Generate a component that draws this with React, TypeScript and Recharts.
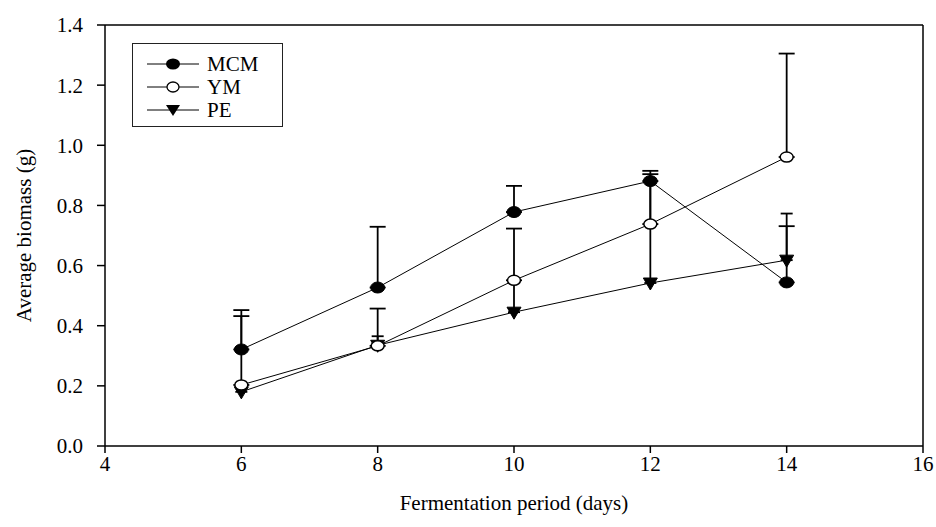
import React from 'react';
import {
  LineChart,
  Line,
  XAxis,
  YAxis,
  ErrorBar,
  ReferenceLine
} from 'recharts';

const days = [6, 8, 10, 12, 14];
const mcm = [0.321, 0.527, 0.778, 0.881, 0.544];
const mcmErr = [0.131, 0.202, 0.087, 0.034, 0.187];
const ym = [0.203, 0.333, 0.551, 0.738, 0.961];
const ymErr = [0.229, 0.124, 0.172, 0.166, 0.344];
const pe = [0.18, 0.335, 0.445, 0.542, 0.618];
const peErr = [0.02, 0.03, 0.105, 0.34, 0.155];
const xTicks = [4, 6, 8, 10, 12, 14, 16];
const yTicks = [0, 0.2, 0.4, 0.6, 0.8, 1.0, 1.2, 1.4];

const data = days.map((d, i) => ({
  day: d,
  mcm: mcm[i],
  mcmErr: [0, mcmErr[i]],
  ym: ym[i],
  ymErr: [0, ymErr[i]],
  pe: pe[i],
  peErr: [0, peErr[i]]
}));

const FONT = '"Liberation Serif", "Times New Roman", serif';

const FilledDot = (p: any) => (
  <ellipse key={p.key} cx={p.cx} cy={p.cy} rx={7} ry={5.5} fill="#000" stroke="#000" strokeWidth={1} />
);
const HollowDot = (p: any) => (
  <ellipse key={p.key} cx={p.cx} cy={p.cy} rx={6.5} ry={5} fill="#fff" stroke="#000" strokeWidth={1.5} />
);
const TriDot = (p: any) => (
  <polygon
    key={p.key}
    points={`${p.cx - 7},${p.cy - 5} ${p.cx + 7},${p.cy - 5} ${p.cx},${p.cy + 7}`}
    fill="#000"
    stroke="#000"
  />
);

const legendItems = [
  { name: 'MCM', marker: 'filled' },
  { name: 'YM', marker: 'hollow' },
  { name: 'PE', marker: 'tri' }
];

const LegendBox = () => (
  <div
    style={{
      position: 'absolute',
      left: 132,
      top: 43,
      width: 151,
      height: 84,
      border: '1.5px solid #222',
      fontFamily: FONT,
      fontSize: 21,
      color: '#000',
      paddingTop: 8,
      boxSizing: 'border-box',
      background: '#fff'
    }}
  >
    {legendItems.map((it) => (
      <div key={it.name} style={{ display: 'flex', alignItems: 'center', height: 23, paddingLeft: 14 }}>
        <svg width={54} height={16}>
          <line x1={0} y1={8} x2={52} y2={8} stroke="#000" strokeWidth={1} />
          {it.marker === 'filled' && <ellipse cx={26} cy={8} rx={7} ry={5.5} fill="#000" />}
          {it.marker === 'hollow' && <ellipse cx={26} cy={8} rx={6} ry={5} fill="#fff" stroke="#000" strokeWidth={1.3} />}
          {it.marker === 'tri' && <polygon points="19,3 33,3 26,14" fill="#000" />}
        </svg>
        <span style={{ marginLeft: 6, lineHeight: '20px' }}>{it.name}</span>
      </div>
    ))}
  </div>
);

export default function App() {
  const tick = { fill: '#000', fontSize: 21, fontFamily: FONT };
  return (
    <div style={{ position: 'absolute', left: 0, top: 0, width: 936, height: 527, background: '#fff' }}>
      <LineChart
        width={936}
        height={527}
        data={data}
        margin={{ top: 25, right: 13, bottom: 0, left: 0 }}
      >
        <XAxis
          dataKey="day"
          type="number"
          domain={[4, 16]}
          ticks={xTicks}
          tick={tick}
          tickSize={7}
          tickMargin={3}
          height={81}
          axisLine={{ stroke: '#000', strokeWidth: 1.5 }}
          tickLine={{ stroke: '#000', strokeWidth: 1.5 }}
          label={{
            value: 'Fermentation period (days)',
            position: 'insideBottom',
            offset: 17,
            style: { fill: '#000', fontSize: 21, fontFamily: FONT }
          }}
        />
        <YAxis
          type="number"
          domain={[0, 1.4]}
          ticks={yTicks}
          tickFormatter={(v: number) => v.toFixed(1)}
          tick={tick}
          tickSize={8}
          tickMargin={14}
          width={105}
          allowDataOverflow
          axisLine={{ stroke: '#000', strokeWidth: 1.5 }}
          tickLine={{ stroke: '#000', strokeWidth: 1.5 }}
          label={{
            value: 'Average biomass (g)',
            angle: -90,
            position: 'insideLeft',
            offset: 24,
            style: { fill: '#000', fontSize: 21, fontFamily: FONT, textAnchor: 'middle' }
          }}
        />
        <ReferenceLine y={1.4} stroke="#000" strokeWidth={1.5} />
        <ReferenceLine x={16} stroke="#000" strokeWidth={1.5} />
        <Line
          dataKey="pe"
          name="PE"
          stroke="#000"
          strokeWidth={1}
          dot={TriDot}
          activeDot={false}
          isAnimationActive={false}
        >
          <ErrorBar dataKey="peErr" direction="y" width={6} stroke="#000" strokeWidth={1.8} />
        </Line>
        <Line
          dataKey="ym"
          name="YM"
          stroke="#000"
          strokeWidth={1}
          dot={HollowDot}
          activeDot={false}
          isAnimationActive={false}
        >
          <ErrorBar dataKey="ymErr" direction="y" width={8} stroke="#000" strokeWidth={1.8} />
        </Line>
        <Line
          dataKey="mcm"
          name="MCM"
          stroke="#000"
          strokeWidth={1}
          dot={FilledDot}
          activeDot={false}
          isAnimationActive={false}
        >
          <ErrorBar dataKey="mcmErr" direction="y" width={8} stroke="#000" strokeWidth={1.8} />
        </Line>
      </LineChart>
      <LegendBox />
    </div>
  );
}
